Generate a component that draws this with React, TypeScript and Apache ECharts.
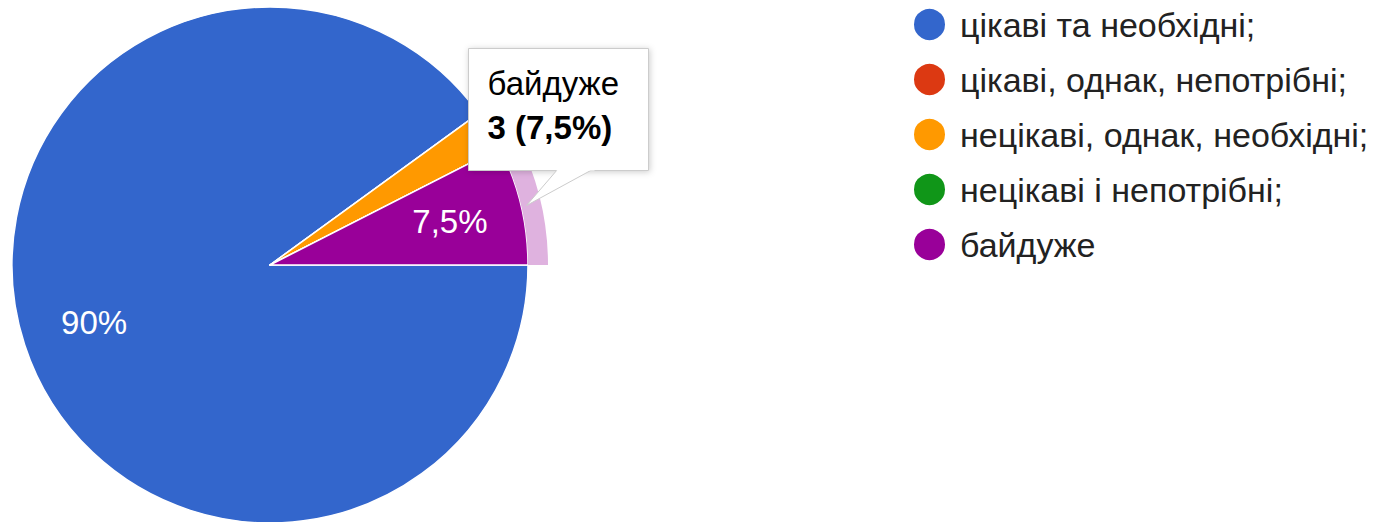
import React, { useEffect, useRef } from "react";
import * as echarts from "echarts";

const categories = [
  "цікаві та необхідні;",
  "цікаві, однак, непотрібні;",
  "нецікаві, однак, необхідні;",
  "нецікаві і непотрібні;",
  "байдуже",
];
const counts = [36, 0, 1, 0, 3];
const colors = ["#3366cc", "#dc3912", "#ff9900", "#109618", "#990099"];
const highlightIndex = 4;
const tooltipTitle = "байдуже";
const tooltipValue = "3 (7,5%)";

const FONT = "Arial, 'Liberation Sans', sans-serif";

export default function App() {
  const ref = useRef<HTMLDivElement>(null);
  useEffect(() => {
    if (!ref.current) return;
    const chart = echarts.init(ref.current, undefined, { renderer: "svg" });
    const total = counts.reduce((a, b) => a + b, 0);
    const center = [270, 265];
    const R = 258;

    const mainData = categories.map((name, i) => ({
      name,
      value: counts[i],
      itemStyle: { color: colors[i] },
    }));
    const labelData = categories.map((name, i) => ({
      name,
      value: counts[i],
      label: { show: counts[i] / total >= 0.05 },
    }));
    const ringData = categories.map((name, i) => ({
      name,
      value: counts[i],
      itemStyle: { color: i === highlightIndex ? "#dfb2df" : "rgba(0,0,0,0)" },
    }));

    chart.setOption({
      animation: false,
      legend: {
        orient: "vertical",
        left: 907,
        top: 2,
        icon: "circle",
        itemWidth: 33,
        itemHeight: 33,
        itemGap: 20,
        selectedMode: false,
        data: categories.map((name, i) => ({ name, itemStyle: { color: colors[i] } })),
        textStyle: {
          fontFamily: FONT,
          fontSize: 34,
          lineHeight: 34,
          color: "#222",
          padding: [0, 0, 0, 9],
        },
      },
      series: [
        {
          type: "pie",
          name: "main",
          center,
          radius: [0, R],
          startAngle: 0,
          clockwise: true,
          silent: true,
          label: { show: false },
          labelLine: { show: false },
          itemStyle: { borderColor: "#ffffff", borderWidth: 1.5 },
          data: mainData,
        },
        {
          type: "pie",
          name: "ring",
          center,
          radius: [R, R + 20],
          startAngle: 0,
          clockwise: true,
          silent: true,
          label: { show: false },
          labelLine: { show: false },
          data: ringData,
        },
        {
          type: "pie",
          name: "labels",
          center,
          radius: [106, R],
          startAngle: 0,
          clockwise: true,
          silent: true,
          itemStyle: { color: "rgba(0,0,0,0)" },
          labelLine: { show: false },
          label: {
            position: "inside",
            color: "#ffffff",
            fontFamily: FONT,
            fontSize: 33,
            formatter: (p: any) =>
              `${Math.round(p.percent * 10) / 10}`.replace(".", ",") + "%",
          },
          data: labelData,
        },
      ],
      graphic: [
        {
          type: "group",
          left: 468,
          top: 48,
          z: 100,
          children: [
            {
              type: "rect",
              z: 100,
              shape: { x: 0, y: 0, width: 180, height: 122 },
              style: {
                fill: "#ffffff",
                stroke: "#cccccc",
                lineWidth: 1,
                shadowBlur: 6,
                shadowColor: "rgba(0,0,0,0.2)",
                shadowOffsetX: 1,
                shadowOffsetY: 1,
              },
            },
            {
              type: "polygon",
              z: 100,
              shape: { points: [[89, 121], [124, 121], [58, 157]] },
              style: { fill: "#ffffff", stroke: "#cccccc", lineWidth: 1 },
            },
            {
              type: "rect",
              z: 101,
              shape: { x: 88, y: 119, width: 38, height: 3 },
              style: { fill: "#ffffff" },
            },
            {
              type: "text",
              z: 102,
              x: 19,
              y: 51,
              style: {
                text: tooltipTitle,
                fontFamily: FONT,
                fontSize: 33,
                fill: "#000",
                verticalAlign: "bottom",
              },
            },
            {
              type: "text",
              z: 102,
              x: 19,
              y: 95,
              style: {
                text: tooltipValue,
                fontFamily: FONT,
                fontSize: 33,
                fontWeight: "bold",
                fill: "#000",
                verticalAlign: "bottom",
              },
            },
          ],
        },
      ],
    });
    return () => chart.dispose();
  }, []);
  return (
    <div
      ref={ref}
      style={{ position: "absolute", left: 0, top: 0, width: 1380, height: 522 }}
    />
  );
}
